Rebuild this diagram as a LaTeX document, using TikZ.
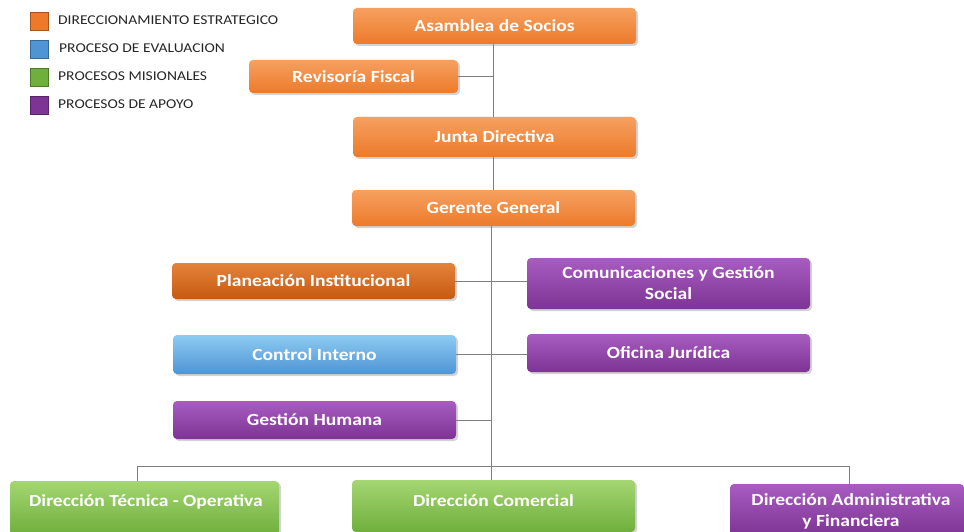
\documentclass[tikz,border=0pt]{standalone}
\usepackage{fontspec}
\setmainfont{Carlito}[FakeStretch=1.15]
\usetikzlibrary{shadows}
\definecolor{orgA}{HTML}{F6A060}
\definecolor{orgB}{HTML}{EC7A2A}
\definecolor{orgdA}{HTML}{E5823A}
\definecolor{orgdB}{HTML}{C65A12}
\definecolor{bluA}{HTML}{8CCBF2}
\definecolor{bluB}{HTML}{4F94D4}
\definecolor{grnA}{HTML}{A4D672}
\definecolor{grnB}{HTML}{6FAF3C}
\definecolor{purA}{HTML}{A85CC0}
\definecolor{purB}{HTML}{7D3494}
\definecolor{linec}{HTML}{7F7F7F}
\tikzset{
  boxfont/.style={text=white, font=\fontsize{17}{21}\selectfont\bfseries, align=center},
  box/.style={rounded corners=4pt, boxfont, inner sep=0pt,
    drop shadow={shadow xshift=2pt, shadow yshift=-2pt, opacity=0.35}},
  orangebox/.style={box, top color=orgA, bottom color=orgB},
  darkorangebox/.style={box, top color=orgdA, bottom color=orgdB},
  bluebox/.style={box, top color=bluA, bottom color=bluB},
  greenbox/.style={box, top color=grnA, bottom color=grnB},
  purplebox/.style={box, top color=purA, bottom color=purB},
  conn/.style={draw=linec, line width=0.9pt},
  legsq/.style={minimum width=18pt, minimum height=18pt, inner sep=0pt, draw=#1!70!black, line width=0.6pt},
  legtxt/.style={anchor=west, font=\fontsize{13.5}{15}\selectfont, text=black!85, inner sep=0pt}
}
\begin{document}
\begin{tikzpicture}[x=1pt,y=-1pt]
\useasboundingbox (0,0) rectangle (964,532);
% legend
\node[legsq=orgB, fill=orgB] (l1) at (39,21) {};
\node[legsq=bluB, fill=bluB] (l2) at (39,49) {};
\node[legsq=grnB, fill=grnB] (l3) at (39,77) {};
\node[legsq=purB, fill=purB] (l4) at (39,105) {};
\node[legtxt] (t1) at (58,20) {DIRECCIONAMIENTO ESTRATEGICO};
\node[legtxt] (t2) at (59,48) {PROCESO DE EVALUACION};
\node[legtxt] (t3) at (58,76) {PROCESOS MISIONALES};
\node[legtxt] (t4) at (58,104) {PROCESOS DE APOYO};
% boxes
\node[orangebox, minimum width=283pt, minimum height=36pt] (asa) at (494.5,26) {Asamblea de Socios};
\node[orangebox, minimum width=209pt, minimum height=33pt] (rev) at (353.5,76.5) {Revisoría Fiscal};
\node[orangebox, minimum width=283pt, minimum height=40pt] (jun) at (494.5,137) {Junta Directiva};
\node[orangebox, minimum width=283pt, minimum height=36pt] (ger) at (493.5,208) {Gerente General};
\node[darkorangebox, minimum width=283pt, minimum height=36pt] (pla) at (313.5,281) {Planeación Institucional};
\node[purplebox, minimum width=283pt, minimum height=51pt] (com) at (668.5,283.5) {Comunicaciones y Gestión\\Social};
\node[bluebox, minimum width=283pt, minimum height=39pt] (con) at (314.5,354.5) {Control Interno};
\node[purplebox, minimum width=283pt, minimum height=38pt] (ofi) at (668.5,353) {Oficina Jurídica};
\node[purplebox, minimum width=283pt, minimum height=38pt] (ges) at (314.5,420) {Gestión Humana};
\node[greenbox, minimum width=269pt, minimum height=54pt] (dtec) at (144.5,508) {};
\node[greenbox, minimum width=283pt, minimum height=52pt] (dcom) at (493.5,506) {};
\node[purplebox, minimum width=234pt, minimum height=52pt] (dadm) at (847,510) {};
\node[boxfont] (dtecT) at (146,502) {Dirección Técnica - Operativa};
\node[boxfont] (dcomT) at (493.5,501) {Dirección Comercial};
\node[boxfont] (dadmT) at (851,511) {Dirección Administrativa\\y Financiera};
% connectors
\coordinate (m1) at (493,76.5);
\coordinate (gb) at (491,466);
\coordinate (hl) at (137,466);
\coordinate (hr) at (849,466);
\draw[conn] (asa.south -| m1) -- (jun.north -| m1);
\draw[conn] (rev.east) -- (m1);
\draw[conn] (jun.south -| m1) -- (ger.north -| m1);
\draw[conn] (ger.south -| gb) -- (gb);
\draw[conn] (pla.east) -- (com.west |- pla.east);
\draw[conn] (con.east) -- (ofi.west |- con.east);
\draw[conn] (ges.east) -- (ges.east -| gb);
\draw[conn] (hl) -- (hr);
\draw[conn] (hl) -- (dtec.north -| hl);
\draw[conn] (gb) -- (dcom.north -| gb);
\draw[conn] (hr) -- (dadm.north -| hr);
\end{tikzpicture}
\end{document}
